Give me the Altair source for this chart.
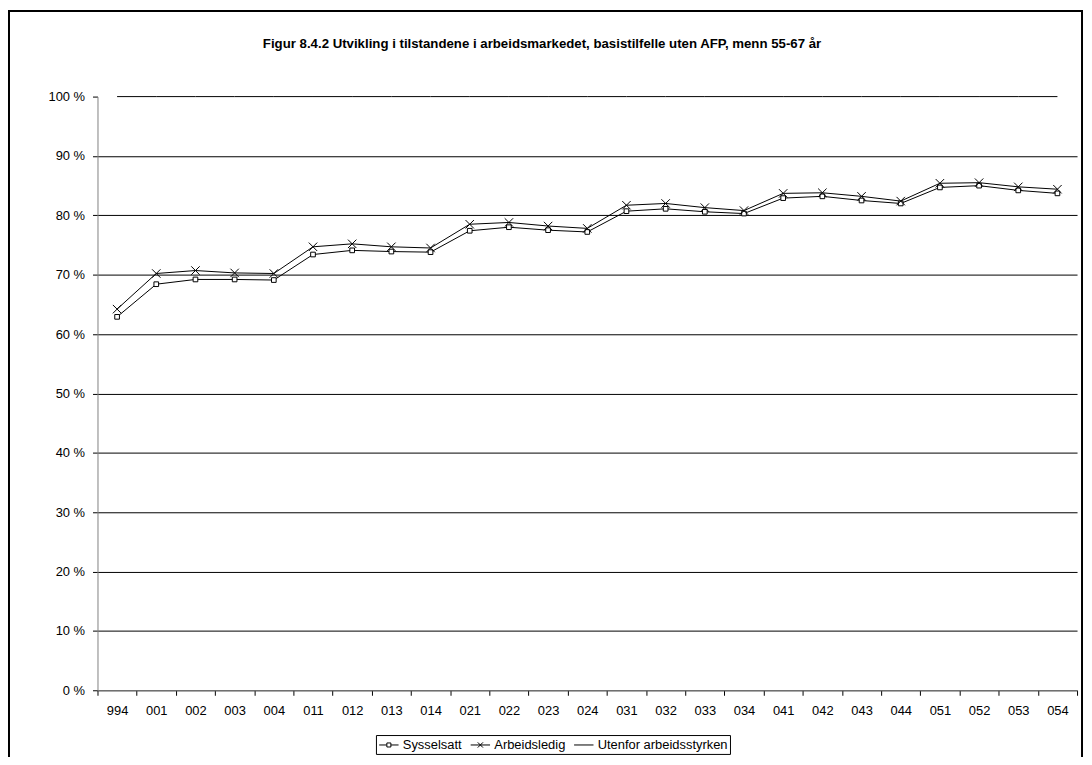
import altair as alt
import pandas as pd

categories = ["994", "001", "002", "003", "004", "011", "012", "013", "014",
              "021", "022", "023", "024", "031", "032", "033", "034",
              "041", "042", "043", "044", "051", "052", "053", "054"]
sysselsatt = [62.9, 68.4, 69.2, 69.2, 69.1, 73.4, 74.1, 73.9, 73.8,
              77.4, 78.0, 77.5, 77.2, 80.7, 81.1, 80.6, 80.3,
              82.9, 83.2, 82.5, 82.0, 84.7, 85.0, 84.2, 83.7]
arbeidsledig = [64.2, 70.2, 70.7, 70.3, 70.2, 74.7, 75.2, 74.7, 74.5,
                78.5, 78.8, 78.2, 77.8, 81.7, 82.0, 81.3, 80.8,
                83.7, 83.8, 83.2, 82.4, 85.4, 85.5, 84.8, 84.4]
utenfor = [100, 100, 100, 100, 100, 100, 100, 100, 100,
           100, 100, 100, 100, 100, 100, 100, 100,
           100, 100, 100, 100, 100, 100, 100, 100]
series_names = ["Sysselsatt", "Arbeidsledig", "Utenfor arbeidsstyrken"]
y_ticks = [0, 10, 20, 30, 40, 50, 60, 70, 80, 90, 100]
title_text = "Figur 8.4.2 Utvikling i tilstandene i arbeidsmarkedet, basistilfelle uten AFP, menn 55-67 år"

rows = []
for name, vals in zip(series_names, [sysselsatt, arbeidsledig, utenfor]):
    for c, v in zip(categories, vals):
        rows.append({"periode": c, "serie": name, "verdi": v})
df = pd.DataFrame(rows)

FONT = "Liberation Sans"

x_enc = alt.X(
    "periode:N", sort=categories, bandPosition=0.5,
    scale=alt.Scale(type="band", paddingInner=0, paddingOuter=0),
    axis=alt.Axis(title=None, tickBand="extent", labelAngle=0, labelFont=FONT,
                  labelFontSize=13, labelColor="black", tickColor="black",
                  tickSize=5, labelPadding=9, domainColor="#808080", grid=False),
)
y_enc = alt.Y(
    "verdi:Q", scale=alt.Scale(domain=[0, 100], nice=False),
    axis=alt.Axis(title=None, values=y_ticks, labelExpr="datum.value + ' %'",
                  labelFont=FONT, labelFontSize=13, labelColor="black",
                  tickColor="black", tickSize=5, labelPadding=8,
                  domainColor="#808080", grid=True, gridColor="black", gridWidth=1,
                  gridOpacity={"condition": {"test": "datum.value === 100", "value": 0}, "value": 1}),
)

base = alt.Chart(df)

frame = alt.Chart(pd.DataFrame({"a": [0]})).mark_rect(
    fillOpacity=0, stroke="black", strokeWidth=2
).encode(x=alt.value(-89), x2=alt.value(990), y=alt.value(-86), y2=alt.value(720))

lines = base.mark_line(color="black", strokeWidth=1).encode(
    x=x_enc, y=y_enc, detail="serie:N"
)

squares = base.transform_filter("datum.serie === 'Sysselsatt'").mark_point(
    shape="square", size=22, filled=True, fill="white", stroke="black",
    strokeWidth=1, opacity=1
).encode(x=alt.X("periode:N", sort=categories, bandPosition=0.5), y="verdi:Q")

crosses = base.transform_filter("datum.serie === 'Arbeidsledig'").mark_point(
    shape="M-1,-1L1,1M-1,1L1,-1", size=72, filled=False, stroke="black",
    strokeWidth=1, opacity=1
).encode(x=alt.X("periode:N", sort=categories, bandPosition=0.5), y="verdi:Q")

legend_paths = [
    "M-1.3,0H-0.27M0.27,0H1.3M-0.27,-0.27H0.27V0.27H-0.27Z",
    "M-1.3,0H1.3M-0.35,-0.35L0.35,0.35M-0.35,0.35L0.35,-0.35",
    "M-1.3,0H1.3",
]
legend_layer = base.mark_point(opacity=0).encode(
    x=alt.X("periode:N", sort=categories, bandPosition=0.5), y="verdi:Q",
    shape=alt.Shape("serie:N", scale=alt.Scale(domain=series_names, range=legend_paths),
                    legend=alt.Legend(title=None, orient="none", legendX=280, legendY=642,
                                      direction="horizontal", strokeColor="black",
                                      fillColor="white", padding=2, symbolSize=225,
                                      symbolStrokeColor="black", symbolFillColor="transparent",
                                      symbolStrokeWidth=1, symbolOpacity=1, symbolOffset=3,
                                      labelFont=FONT, labelFontSize=13, labelColor="black",
                                      columnPadding=6, labelOffset=6)),
)

title = alt.Chart(pd.DataFrame({"t": [title_text]})).mark_text(
    font=FONT, fontSize=13.3, fontWeight="bold", color="black", align="center", baseline="middle"
).encode(text="t:N", x=alt.value(447), y=alt.value(-53))

chart = alt.layer(frame, lines, squares, crosses, legend_layer, title).properties(
    width=985, height=597,
    padding={"left": 90, "top": 87, "right": 7, "bottom": 65},
    autosize=alt.AutoSizeParams(type="none"),
    background="white",
).configure_view(strokeWidth=0)

chart.save("out.html", embed_options={"renderer": "svg", "actions": False})
